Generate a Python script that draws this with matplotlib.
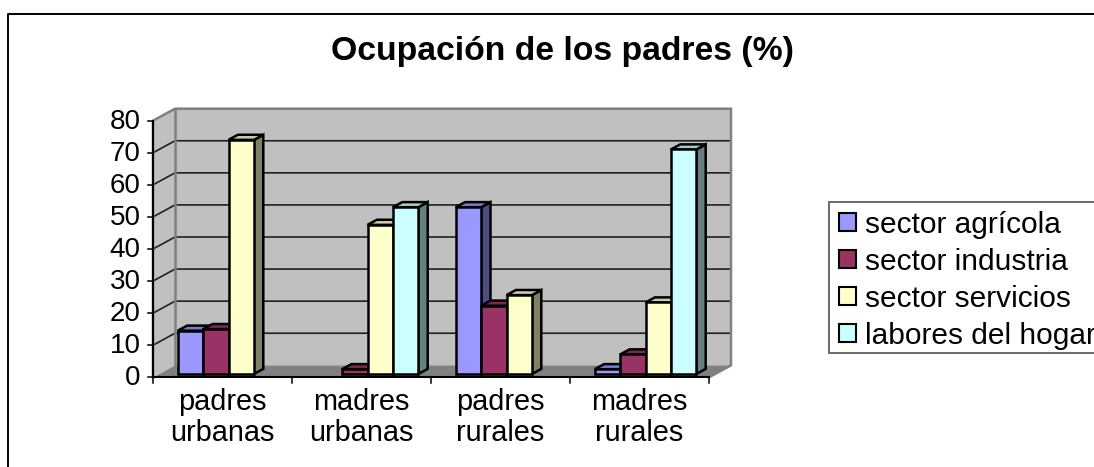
import matplotlib
matplotlib.use("Agg")
import matplotlib.pyplot as plt
from matplotlib.patches import Polygon, Rectangle
from matplotlib.lines import Line2D

plt.rcParams['font.family'] = ['Liberation Sans', 'DejaVu Sans']

TITLE = "Ocupación de los padres (%)"
categories = ["padres\nurbanas", "madres\nurbanas", "padres\nrurales", "madres\nrurales"]
series_names = ["sector agrícola", "sector industria", "sector servicios", "labores del hogar"]
sector_agricola = [13.5, 0, 52, 1.5]
sector_industria = [14, 1.5, 21.3, 6.1]
sector_servicios = [73, 46.5, 24.6, 22.3]
labores_hogar = [0, 52, 0, 70]
yticks = list(range(0, 90, 10))

series = [sector_agricola, sector_industria, sector_servicios, labores_hogar]
front = ["#9999FF", "#993366", "#FFFFCC", "#CCFFFF"]
top = ["#7A7ACC", "#7A2952", "#CCCCA3", "#A3CCCC"]
side = ["#4D4D80", "#4D1A33", "#808066", "#668080"]

W, H = 1094, 467
fig = plt.figure(figsize=(W / 100, H / 100), dpi=100, facecolor="white")
L, R, B, T = 153, 709, 377.3, 120.7
ax = fig.add_axes([L / W, 1 - B / H, (R - L) / W, (B - T) / H])
ax.set_xlim(0, 4)
ax.set_ylim(0, 80)
ax.axis("off")

px = 4 / (R - L)
py = 80 / (B - T)
DX, DY = 22 * px, 12 * py


def proj(x, y, d):
    return (x + d * DX, y + d * DY)


def poly(pts, fc, ec="black", lw=1.8, z=2):
    ax.add_patch(Polygon(pts, closed=True, facecolor=fc, edgecolor=ec, linewidth=lw,
                         joinstyle="miter", clip_on=False, zorder=z))


wall_ec = "#808080"
# floor
poly([proj(0, 0, 0), proj(4, 0, 0), proj(4, 0, 1), proj(0, 0, 1)], "#808080", "none", 0, 1)
# walls
poly([proj(0, 0, 1), proj(4, 0, 1), proj(4, 80, 1), proj(0, 80, 1)], "#C0C0C0", "none", 0, 1)
poly([proj(0, 0, 0), proj(0, 0, 1), proj(0, 80, 1), proj(0, 80, 0)], "#C0C0C0", "none", 0, 1)
# gridlines
for v in yticks[1:-1]:
    ax.plot(*zip(proj(0, v, 0), proj(0, v, 1), proj(4, v, 1)), color="#202020", lw=1.2,
            clip_on=False, zorder=1.5, solid_joinstyle="miter")
# wall outline
ax.plot(*zip(proj(0, 0, 0), proj(0, 80, 0), proj(0, 80, 1), proj(4, 80, 1), proj(4, 0, 1), proj(4, 0, 0)),
        color=wall_ec, lw=1.8, clip_on=False, zorder=1.6, solid_joinstyle="miter")
ax.plot(*zip(proj(0, 0, 1), proj(0, 80, 1)), color=wall_ec, lw=1.8, clip_on=False, zorder=1.6)

# bars
BW = 25.4 * px
D0, D1 = 0.275, 0.70
for i in range(4):
    for k, vals in enumerate(series):
        v = vals[i]
        if v <= 0:
            continue
        x0 = i + 0.5 + (k - 2) * BW
        x1 = x0 + BW
        z = 2 + k * 0.1
        poly([proj(x1, 0, D0), proj(x1, 0, D1), proj(x1, v, D1), proj(x1, v, D0)], side[k], z=z)
        poly([proj(x0, v, D0), proj(x1, v, D0), proj(x1, v, D1), proj(x0, v, D1)], top[k], z=z)
        poly([proj(x0, 0, D0), proj(x1, 0, D0), proj(x1, v, D0), proj(x0, v, D0)], front[k], z=z)

# axes lines and ticks
ax.plot([0, 4], [0, 0], color="black", lw=1.5, clip_on=False, zorder=3)
ax.plot([0, 0], [0, 80], color="black", lw=1.5, clip_on=False, zorder=3)
for v in yticks:
    ax.plot([0, -5 * px], [v, v], color="black", lw=1.1, clip_on=False, zorder=3)
    ax.text(-12.5 * px, v - 0.3, str(v), ha="right", va="center", fontsize=20, color="black")
for i in range(5):
    ax.plot([i, i], [0, -6 * py], color="black", lw=1.1, clip_on=False, zorder=3)
for i, c in enumerate(categories):
    ax.text(i + 0.5, -10.5 * py, c, ha="center", va="top", fontsize=20.8, color="black",
            linespacing=1.16)

# title
fig.text(562 / W, 1 - 51.5 / H, TITLE, ha="center", va="center", fontsize=24.3, fontweight="bold", color="black")

# chart border
fig.add_artist(Line2D([7.5 / W, 7.5 / W, 1], [0, 1 - 13.5 / H, 1 - 13.5 / H], color="black", lw=1.4))

# legend frame, running off the right edge of the picture as in the original
fig.add_artist(Rectangle((828.7 / W, 1 - 352.7 / H), (W + 20 - 828.7) / W, (352.7 - 202) / H,
                         transform=fig.transFigure, facecolor="white", edgecolor="#606060", linewidth=1.3))

# legend
handles = [Rectangle((0, 0), 1, 1, facecolor=front[k], edgecolor="black", linewidth=1.5) for k in range(4)]
leg = fig.legend(handles, series_names, loc="upper left",
                 bbox_to_anchor=(828.7 / W, 1 - 201 / H), bbox_transform=fig.transFigure,
                 fontsize=21.5, frameon=False, borderaxespad=0, borderpad=0.33,
                 handlelength=0.57, handleheight=0.53, handletextpad=0.32, labelspacing=0.30)
leg.set_zorder(5)

fig.savefig("out.png", dpi=100)
